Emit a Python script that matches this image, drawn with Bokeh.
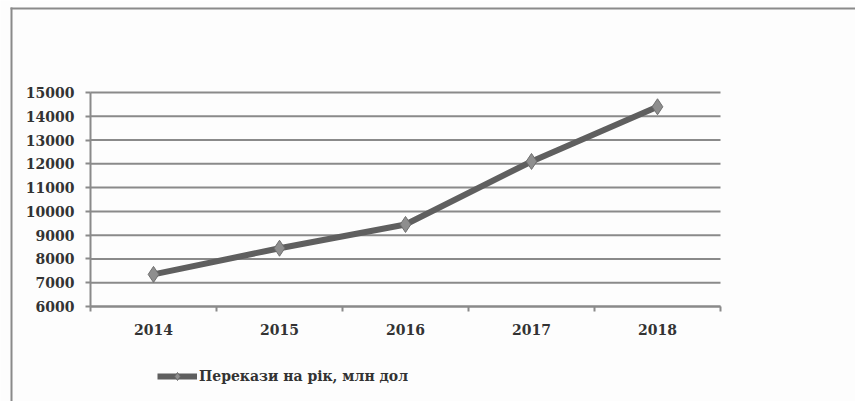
from bokeh.plotting import figure
from bokeh.models import FixedTicker, Legend, LegendItem, Range1d, BoxAnnotation
from bokeh.embed import file_html
from bokeh.resources import INLINE

years = ["2014", "2015", "2016", "2017", "2018"]
remittances = [7350, 8450, 9450, 12100, 14400]
y_ticks = [6000, 7000, 8000, 9000, 10000, 11000, 12000, 13000, 14000, 15000]
series_name = "Перекази на рік, млн дол"

FONT = "DejaVu Serif"
GRID = "#8a8a8a"
TEXT = "#333333"

W, H = 855, 401
# plot-area placement in pixels (left, right, top, axis line)
LEFT_PX, RIGHT_PX, TOP_PX, AXIS_PX = 90, 720, 92, 306

n = len(years)
xs = list(range(n))
ux = n / (RIGHT_PX - LEFT_PX)                       # data units per px (x)
uy = (y_ticks[-1] - y_ticks[0]) / (AXIS_PX - TOP_PX)  # data units per px (y)
x_range = Range1d(-0.5 - LEFT_PX * ux, n - 0.5 + (W - RIGHT_PX) * ux)
y_range = Range1d(y_ticks[0] - (H - AXIS_PX) * uy, y_ticks[-1] + TOP_PX * uy)

p = figure(width=W, height=H, output_backend="svg", toolbar_location=None,
           x_range=x_range, y_range=y_range,
           min_border_left=0, min_border_right=0, min_border_top=0, min_border_bottom=0)
p.background_fill_color = "#fdfdfd"
p.border_fill_color = "#fdfdfd"
p.outline_line_color = None

# outer chart border: left and top edges only (the rest runs off the picture)
for l, r, t, b in [(10, W + 40, 7, 9), (10, 12, 7, H + 40)]:
    p.add_layout(BoxAnnotation(left=l, right=r, top=t, bottom=b,
                               left_units="canvas", right_units="canvas",
                               top_units="canvas", bottom_units="canvas",
                               fill_color=GRID, fill_alpha=1, line_color=None,
                               level="underlay"))

# horizontal grid lines across the category span
p.segment(x0=[-0.5] * len(y_ticks), x1=[n - 0.5] * len(y_ticks), y0=y_ticks, y1=y_ticks,
          line_color=GRID, line_width=2, level="underlay")
p.xgrid.grid_line_color = None
p.ygrid.grid_line_color = None

# x axis: labels at centres, small ticks at category boundaries
p.xaxis.fixed_location = y_ticks[0]
p.xaxis.bounds = (-0.5, n - 0.5)
p.xaxis.ticker = FixedTicker(ticks=xs, minor_ticks=[i - 0.5 for i in range(n + 1)])
p.xaxis.major_label_overrides = {i: y for i, y in enumerate(years)}
p.xaxis.major_tick_out = 0
p.xaxis.major_tick_in = 0
p.xaxis.minor_tick_out = 5
p.xaxis.minor_tick_in = 0
p.xaxis.minor_tick_line_color = GRID
p.xaxis.minor_tick_line_width = 2
p.xaxis.axis_line_color = GRID
p.xaxis.axis_line_width = 2
p.xaxis.major_label_standoff = 12
p.xaxis.major_label_text_font = FONT
p.xaxis.major_label_text_font_style = "bold"
p.xaxis.major_label_text_font_size = "14px"
p.xaxis.major_label_text_color = TEXT

p.yaxis.fixed_location = -0.5
p.yaxis.ticker = FixedTicker(ticks=y_ticks, minor_ticks=[])
p.yaxis.bounds = (y_ticks[0], y_ticks[-1])
p.yaxis.major_tick_out = 5
p.yaxis.major_tick_in = 0
p.yaxis.major_tick_line_color = GRID
p.yaxis.major_tick_line_width = 2
p.yaxis.axis_line_color = GRID
p.yaxis.axis_line_width = 2
p.yaxis.major_label_standoff = 11
p.yaxis.major_label_text_font = FONT
p.yaxis.major_label_text_font_style = "bold"
p.yaxis.major_label_text_font_size = "14px"
p.yaxis.major_label_text_color = TEXT

ln = p.line(xs, remittances, line_color="#5f5f5f", line_width=6)
mk = p.scatter(xs, remittances, marker="diamond", size=16, fill_color="#8e8e8e",
               line_color="#6f6f6f", line_width=1)

legend = Legend(items=[LegendItem(label=series_name, renderers=[ln, mk])],
                location=(157, 15), orientation="horizontal",
                glyph_width=40, glyph_height=20, padding=0, margin=0, spacing=0,
                label_standoff=2, border_line_color=None, background_fill_alpha=0,
                label_text_font=FONT, label_text_font_style="bold",
                label_text_font_size="14px", label_text_color=TEXT)
p.add_layout(legend, "center")

open("out.html", "w").write(file_html(p, INLINE))
